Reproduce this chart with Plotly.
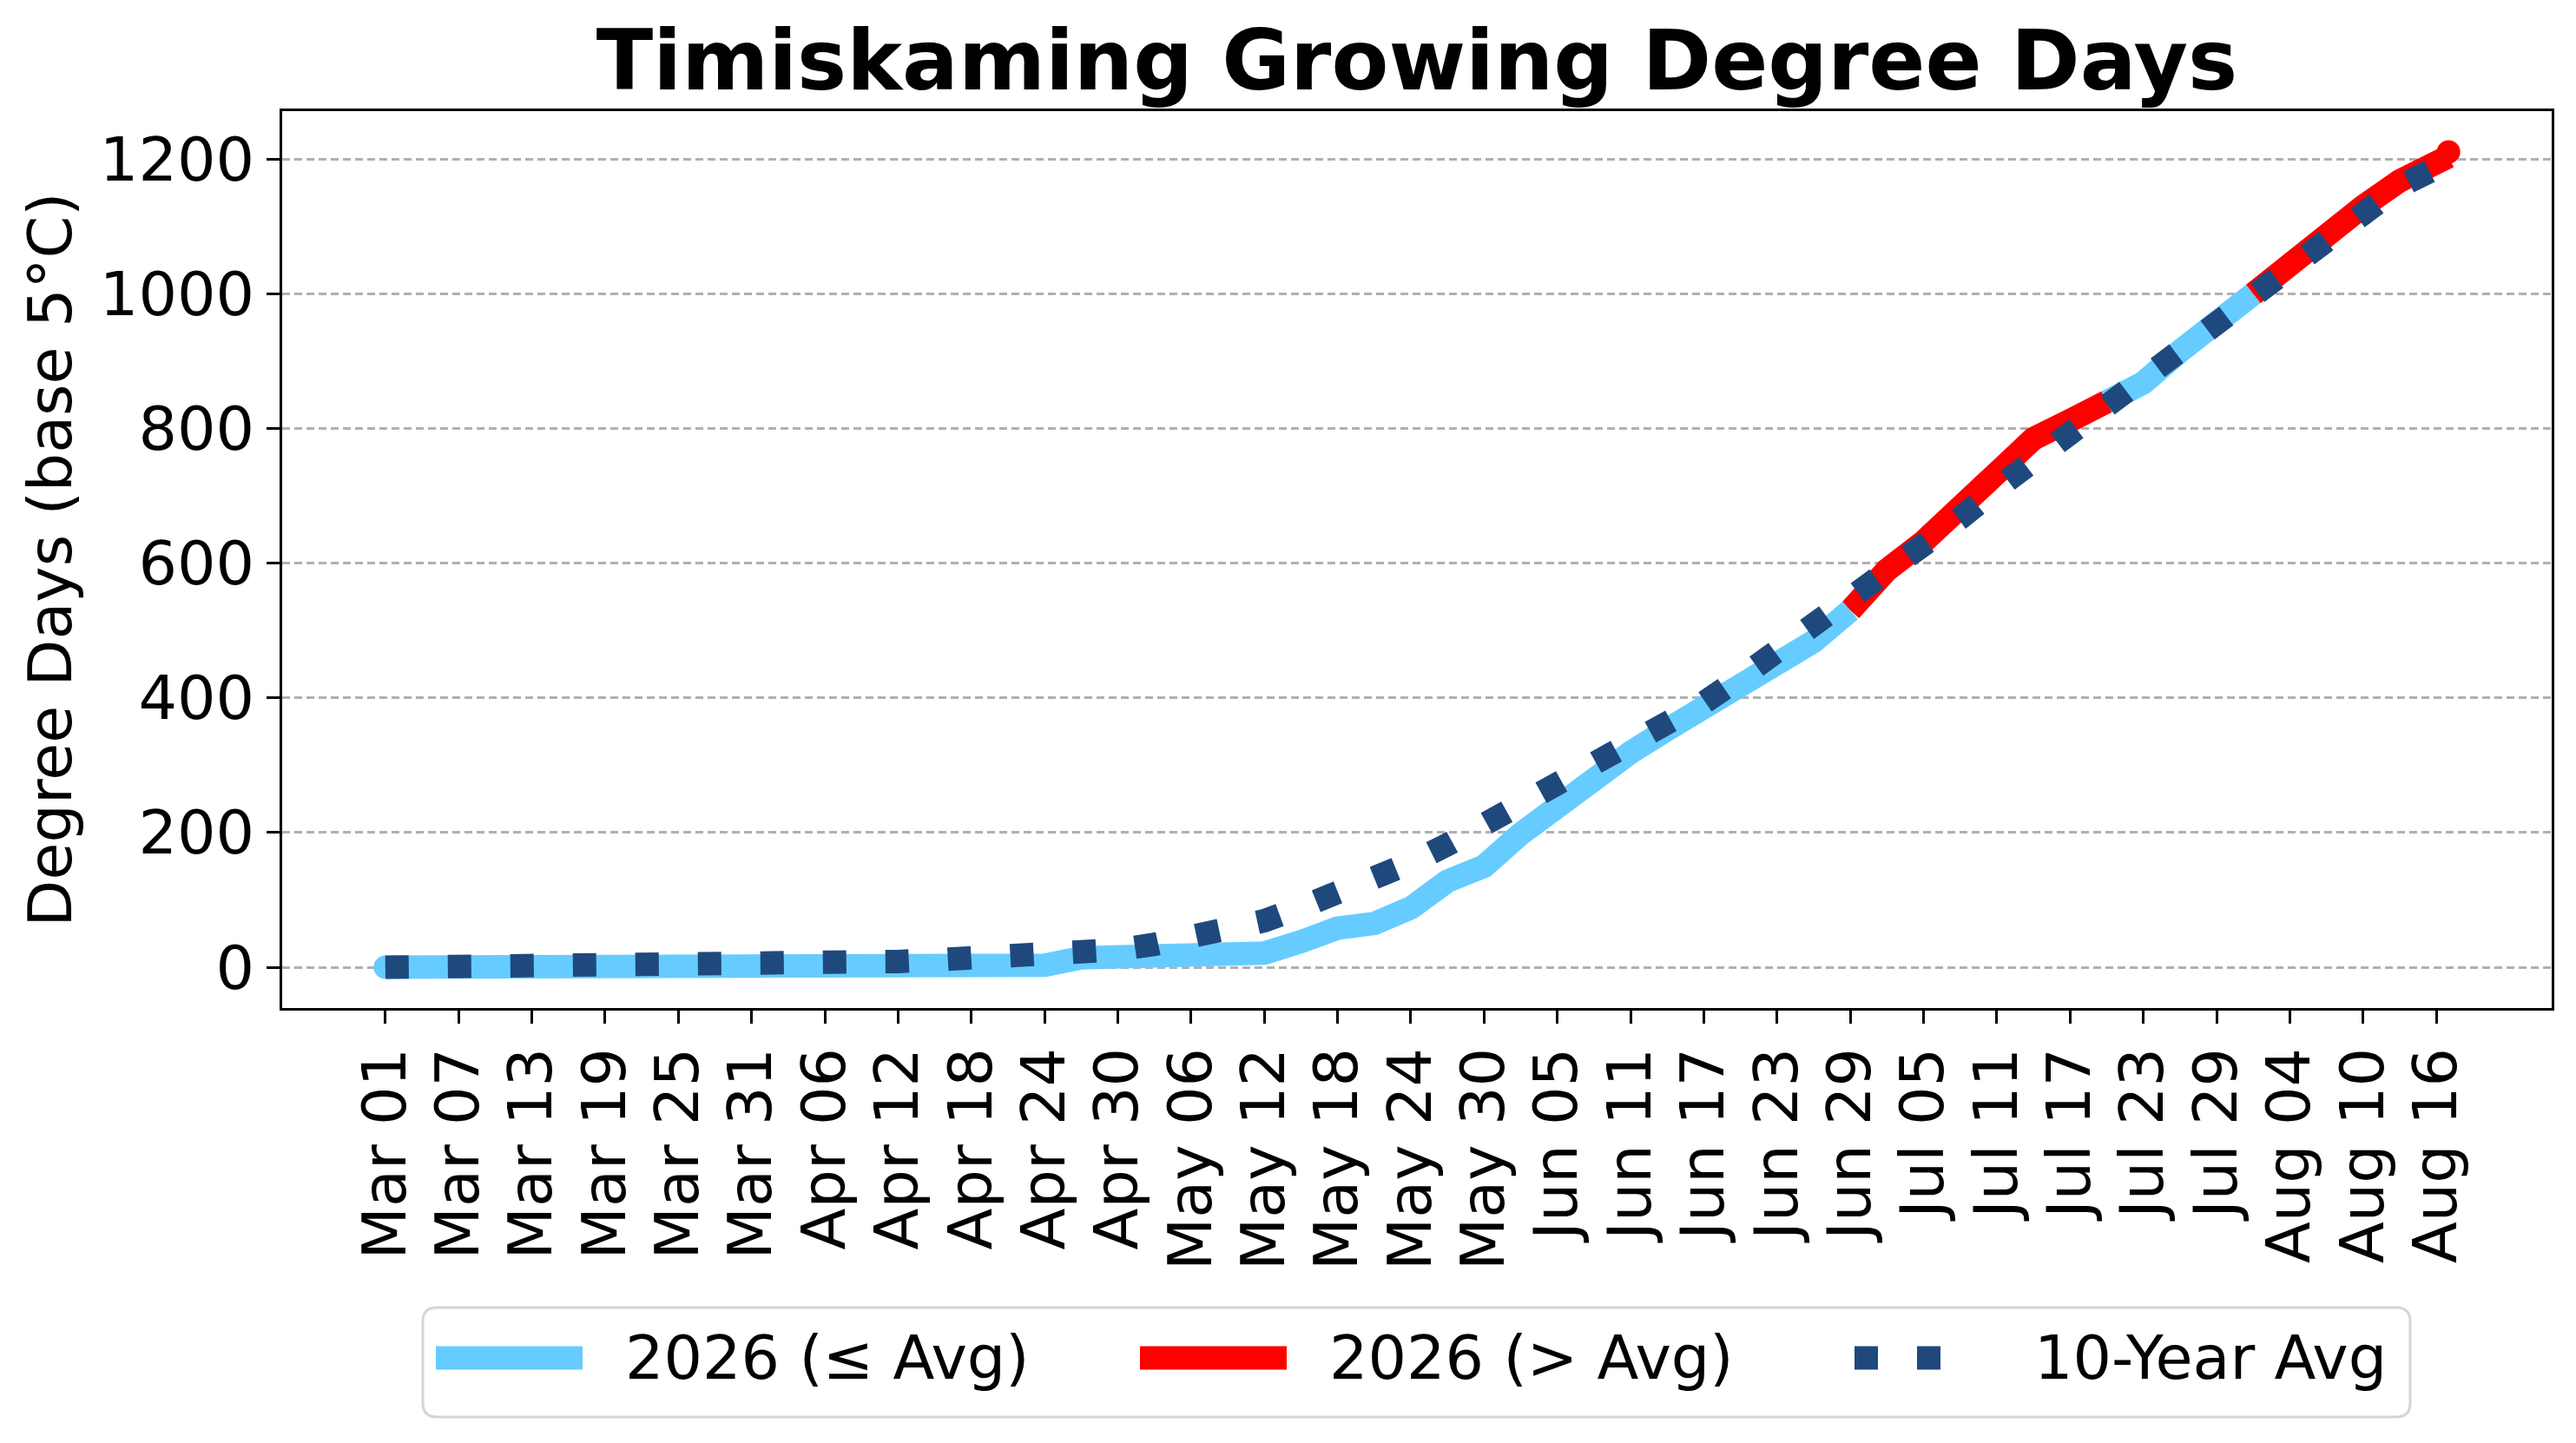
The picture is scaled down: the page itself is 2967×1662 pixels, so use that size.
import pandas as pd
import plotly.graph_objects as go

# values, one point every 3 days from Mar 01 (last point Aug 17)
dates = list(pd.date_range("2026-03-01", "2026-08-15", freq="3D")) + [pd.Timestamp("2026-08-17")]

gdd_2026 = [0, 0, 0, 0, 0, 0, 0, 0, 0, 0,
            0, 0, 0, 0, 0.5, 1, 1.5, 2, 3, 14,
            17, 19, 20, 20.5, 21, 38, 58, 65, 88, 128,
            150, 198, 240, 274, 319, 353, 386, 416, 445, 484,
            530, 590, 632, 680, 728, 785, 812, 840, 868, 915,
            958, 1000, 1045, 1090, 1130, 1168, 1204, 1211]

gdd_avg = [0, 0, 0, 0, 0, 0.2, 0.4, 0.7, 1, 1,
           1, 1.2, 1.8, 4.5, 8.6, 11, 12.7, 13.3, 15, 19,
           26, 34, 44.5, 57, 69, 89, 108, 131, 155, 182,
           212, 241, 270, 298, 327, 356, 393, 430, 468, 505,
           544, 586, 629, 667, 711, 753, 792, 835, 876, 918,
           962, 1001, 1040, 1079, 1119, 1160, 1196, 1205]

tick_dates = pd.date_range("2026-03-01", "2026-08-16", freq="6D")
tick_labels = [d.strftime("%b %d") for d in tick_dates]
y_ticks = [0, 200, 400, 600, 800, 1000, 1200]

legend_labels = ["2026 (\u2264 Avg)", "2026 (> Avg)", "10-Year Avg"]

BLUE = "#66CCFF"
RED = "#FF0000"
NAVY = "#1F497D"
FONT = "DejaVu Sans"

W, H = 2967, 1662
L, R, T, B = 325, 2939, 128, 1161


def px2x(px):
    return (px - L) / (R - L)


def px2y(py):
    return (B - py) / (B - T)


def runs(xs, ys, above, want):
    """Collect the segments whose end point matches `want`, split by None."""
    out_x, out_y = [], []
    last = None
    for i in range(1, len(xs)):
        if above[i] != want:
            continue
        if last != i - 1:
            if out_x:
                out_x.append(None)
                out_y.append(None)
            out_x.append(xs[i - 1])
            out_y.append(ys[i - 1])
        out_x.append(xs[i])
        out_y.append(ys[i])
        last = i
    return out_x, out_y


above = [g > a for g, a in zip(gdd_2026, gdd_avg)]
bx, by = runs(dates, gdd_2026, above, False)
rx, ry = runs(dates, gdd_2026, above, True)

fig = go.Figure()

fig.add_trace(go.Scatter(x=rx, y=ry, mode="lines", line=dict(color=RED, width=27),
                         showlegend=False, hoverinfo="skip"))
fig.add_trace(go.Scatter(x=bx, y=by, mode="lines", line=dict(color=BLUE, width=27),
                         showlegend=False, hoverinfo="skip"))
# round caps at both ends of the 2026 line
fig.add_trace(go.Scatter(x=[dates[0]], y=[gdd_2026[0]], mode="markers",
                         marker=dict(color=RED if above[0] else BLUE, size=27, line=dict(width=0)),
                         showlegend=False, hoverinfo="skip"))
fig.add_trace(go.Scatter(x=[dates[-1]], y=[gdd_2026[-1]], mode="markers",
                         marker=dict(color=RED if above[-1] else BLUE, size=27, line=dict(width=0)),
                         showlegend=False, hoverinfo="skip"))
fig.add_trace(go.Scatter(x=dates, y=gdd_avg, mode="lines",
                         line=dict(color=NAVY, width=27, dash="27px,45px"),
                         showlegend=False, hoverinfo="skip"))

# x range with matplotlib-style 5% margins
start = pd.Timestamp("2026-03-01")
span = (dates[-1] - start).days
x0 = start - pd.Timedelta(days=0.05 * span)
x1 = dates[-1] + pd.Timedelta(days=0.05 * span)
ymax = max(max(gdd_2026), max(gdd_avg))

fig.update_layout(
    width=W, height=H,
    margin=dict(l=L, r=W - R, t=T, b=H - B),
    plot_bgcolor="white", paper_bgcolor="white",
    font=dict(family=FONT, size=70, color="black"),
    showlegend=False,
    title=dict(text="<b>Timiskaming Growing Degree Days</b>", x=0.5, xref="paper",
               y=1 - 69 / H, yanchor="middle", yref="container",
               font=dict(family=FONT, size=96, color="black")),
    xaxis=dict(type="date", range=[x0, x1], tickmode="array",
               tickvals=list(tick_dates), ticktext=tick_labels, tickangle=-90,
               showgrid=False, zeroline=False,
               showline=True, mirror=True, linecolor="black", linewidth=3,
               ticks="outside", ticklen=15, tickwidth=3, tickcolor="black",
               tickfont=dict(family=FONT, size=70, color="black")),
    yaxis=dict(range=[-0.05 * ymax, 1.05 * ymax], tickmode="array", tickvals=y_ticks,
               showgrid=True, gridcolor="#b0b0b0", gridwidth=2.5, griddash="9px,5px",
               zeroline=False,
               showline=True, mirror=True, linecolor="black", linewidth=3,
               ticks="outside", ticklen=15, tickwidth=3, tickcolor="black",
               tickfont=dict(family=FONT, size=70, color="black")),
)

# y axis title
fig.add_annotation(text="Degree Days (base 5\u00b0C)", textangle=-90,
                   xref="paper", yref="paper", x=px2x(57), y=0.5,
                   xanchor="center", yanchor="middle", showarrow=False,
                   font=dict(family=FONT, size=70, color="black"))

# legend drawn by hand so the handles match the original length
lx0, lx1, ly0, ly1, rad = 487, 2776, 1506, 1632, 16
xa, xb = px2x(lx0), px2x(lx1)
ya, yb = px2y(ly0), px2y(ly1)
dx, dy = rad / (R - L), rad / (B - T)
path = (f"M{xa + dx},{ya} L{xb - dx},{ya} Q{xb},{ya} {xb},{ya - dy} "
        f"L{xb},{yb + dy} Q{xb},{yb} {xb - dx},{yb} "
        f"L{xa + dx},{yb} Q{xa},{yb} {xa},{yb + dy} "
        f"L{xa},{ya - dy} Q{xa},{ya} {xa + dx},{ya} Z")
fig.add_shape(type="path", path=path, xref="paper", yref="paper",
              line=dict(color="#d6d6d6", width=3), fillcolor="white", layer="above")

ly = px2y(1564)
handles = [(502, 671, BLUE, "solid", 718),
           (1313, 1482, RED, "solid", 1529),
           (2136, 2236, NAVY, "27px,45px", 2341)]
for (h0, h1, col, dash, tx), label in zip(handles, legend_labels):
    fig.add_shape(type="line", xref="paper", yref="paper",
                  x0=px2x(h0), x1=px2x(h1), y0=ly, y1=ly,
                  line=dict(color=col, width=27, dash=dash), layer="above")
    fig.add_annotation(text=label, xref="paper", yref="paper", x=px2x(tx), y=ly,
                       xanchor="left", yanchor="middle", showarrow=False,
                       font=dict(family=FONT, size=70, color="black"))

# drop the default page margin and the modebar so only the figure shows
fig.write_html("out.html", config={"displayModeBar": False},
               post_script="document.body.style.margin='0';")
